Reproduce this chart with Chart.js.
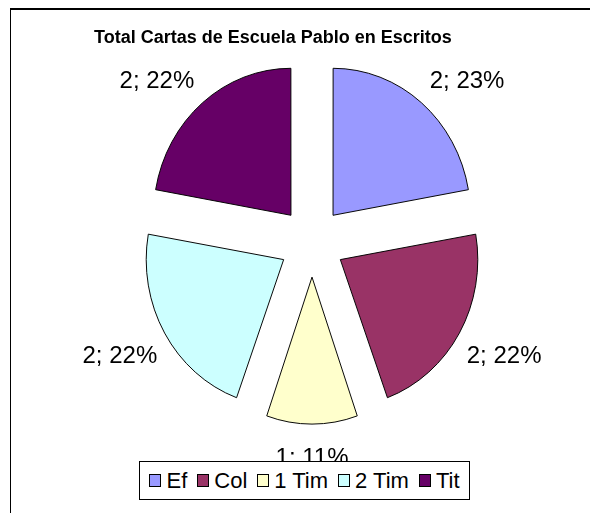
<!DOCTYPE html>
<html><head><meta charset="utf-8">
<script src="https://cdn.jsdelivr.net/npm/chart.js@4/dist/chart.umd.min.js"></script>
<style>
html,body{margin:0;padding:0;background:#fff;}
#wrap{position:relative;width:590px;height:513px;overflow:hidden;background:#fff;}
#frame{position:absolute;left:10px;top:8px;width:700px;height:700px;border-top:2px solid #000;border-left:1px solid #000;}
canvas{position:absolute;left:0;top:0;}
#legend{position:absolute;left:139px;top:461px;width:331px;height:39px;box-sizing:border-box;border:1px solid #000;background:#fff;display:flex;align-items:center;justify-content:center;font-family:'Liberation Sans',Arial,sans-serif;font-size:22px;color:#000;}
.item{display:flex;align-items:center;margin:0 5px;}
.sw{width:10px;height:11px;border:1px solid #000;margin-right:5px;}
</style></head>
<body><div id="wrap"><div id="frame"></div><canvas id="c" width="590" height="513"></canvas><div id="legend"></div></div>
<script>
const titleText = 'Total Cartas de Escuela Pablo en Escritos';
const categories = ['Ef', 'Col', '1 Tim', '2 Tim', 'Tit'];
const values = [2, 2, 1, 2, 2];
const percents = [23, 22, 11, 22, 22];
const colors = ['#9999FF', '#993366', '#FFFFCC', '#CCFFFF', '#660066'];

const EXPLODE = 140;

const explodeFix = {
  id: 'explodeFix',
  afterDatasetUpdate(chart, args) {
    const off = EXPLODE / 4;
    args.meta.data.forEach(el => {
      const fix = 1 - Math.sin(Math.min(Math.PI, el.circumference));
      el.outerRadius = el.outerRadius - off * fix;
    });
  }
};

const pieLook = {
  id: 'pieLook',
  beforeDatasetsDraw(chart, args, opts) {
    const ctx = chart.ctx;
    const arc = chart.getDatasetMeta(0).data[0];
    ctx.save();
    ctx.translate(arc.x, 0);
    ctx.scale(opts.squeezeX, 1);
    ctx.translate(-arc.x, 0);
  },
  afterDatasetsDraw(chart, args, opts) {
    const ctx = chart.ctx;
    ctx.restore();
    const meta = chart.getDatasetMeta(0);
    ctx.save();
    ctx.font = '24px "Liberation Sans", Arial, sans-serif';
    ctx.fillStyle = '#000';
    ctx.textAlign = 'center';
    ctx.textBaseline = 'middle';
    meta.data.forEach((arc, i) => {
      const txt = values[i] + '; ' + percents[i] + '%';
      const mid = (arc.startAngle + arc.endAngle) / 2;
      const c = Math.cos(mid), s = Math.sin(mid);
      const hw = ctx.measureText(txt).width / 2 + opts.padX;
      const sx = Math.abs(c) < 1e-6 ? 0 : Math.sign(c);
      const sy = Math.abs(s) < 1e-6 ? 0 : Math.sign(s);
      const x = arc.x + c * opts.rx + sx * hw;
      const y = arc.y + s * opts.ry + sy * opts.halfH + opts.nudgeY;
      ctx.fillText(txt, x, y);
    });
    ctx.restore();
  }
};

const chart = new Chart(document.getElementById('c'), {
  type: 'pie',
  data: {
    labels: categories,
    datasets: [{
      data: values,
      backgroundColor: colors,
      borderColor: '#000',
      borderWidth: 1,
      offset: EXPLODE,
      hoverOffset: EXPLODE,
      radius: 147
    }]
  },
  options: {
    responsive: false,
    animation: false,
    events: [],
    radius: 147,
    layout: {padding: {left: 94, right: 60, top: 0, bottom: 89}},
    plugins: {
      legend: {display: false},
      tooltip: {enabled: false},
      title: {
        display: true,
        text: titleText,
        align: 'start',
        color: '#000',
        font: {family: "'Liberation Sans',Arial,sans-serif", size: 18, weight: 'bold'},
        padding: {top: 27, bottom: 11.6}
      },
      pieLook: {squeezeX: 0.935, rx: 166, ry: 204, padX: 11, halfH: 8.35, nudgeY: 3.65}
    }
  },
  plugins: [explodeFix, pieLook]
});

const legendEl = document.getElementById('legend');
chart.options.plugins.legend.labels.generateLabels(chart).forEach(item => {
  const d = document.createElement('span');
  d.className = 'item';
  const sw = document.createElement('span');
  sw.className = 'sw';
  sw.style.background = item.fillStyle;
  const t = document.createElement('span');
  t.textContent = item.text;
  d.appendChild(sw); d.appendChild(t);
  legendEl.appendChild(d);
});
</script>
</body></html>
